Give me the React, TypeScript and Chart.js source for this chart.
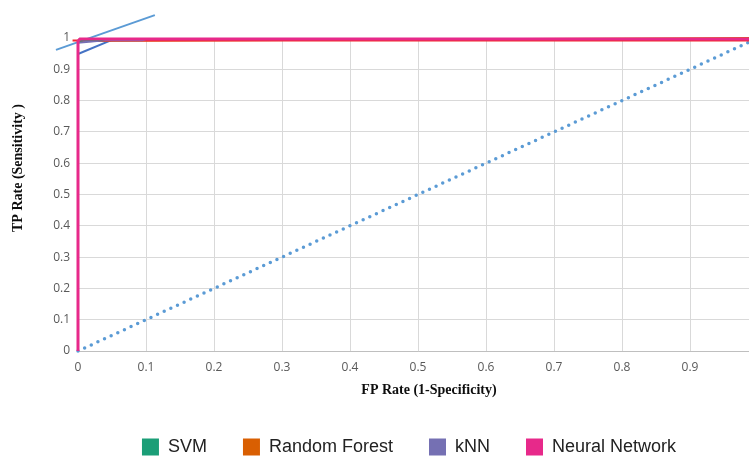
import React, { useEffect, useRef } from 'react';
import { Chart, registerables } from 'chart.js';

Chart.register(...registerables);

// ---- data ----
const seriesNames = ['SVM', 'Random Forest', 'kNN', 'Neural Network'];
const seriesColors = ['#1b9e77', '#d95f02', '#7570b3', '#e7298a'];

const svmFpr = [0, 0, 0.01, 0.035, 0.04, 1];
const svmTpr = [0, 0.99, 0.994, 0.994, 0.997, 0.997];

const rfFpr = [0, 0, 0.05, 1];
const rfTpr = [0, 0.99, 0.991, 1];

const knnFpr = [0, 0, 0.04, 0.095, 0.1, 1];
const knnTpr = [0, 0.985, 0.993, 0.993, 0.997, 0.997];

const nnFpr = [0, 0, 0.003, 1];
const nnTpr = [0, 0.99, 0.997, 0.997];

const extraRedFpr = [-0.008, 1];
const extraRedTpr = [0.992, 0.992];

const extraBlueFpr = [0, 0.05];
const extraBlueTpr = [0.949, 0.994];

const extraLightFpr = [-0.0324, 0.113];
const extraLightTpr = [0.962, 1.073];

const chanceFpr = [0, 1];
const chanceTpr = [0, 1];

const xTickValues = [0, 0.1, 0.2, 0.3, 0.4, 0.5, 0.6, 0.7, 0.8, 0.9];
const xTickLabels = ['0', '0.1', '0.2', '0.3', '0.4', '0.5', '0.6', '0.7', '0.8', '0.9'];
const yTickValues = [0, 0.1, 0.2, 0.3, 0.4, 0.5, 0.6, 0.7, 0.8, 0.9, 1];
const yTickLabels = ['0', '0.1', '0.2', '0.3', '0.4', '0.5', '0.6', '0.7', '0.8', '0.9', '1'];

const xTitle = 'FP Rate (1-Specificity)';
const yTitle = 'TP Rate (Sensitivity )';

const toPoints = (xs: number[], ys: number[]) => xs.map((x, i) => ({ x, y: ys[i] }));

const titlePlugin = {
  id: 'axisTitles',
  afterDraw(chart: any) {
    const ctx = chart.ctx;
    ctx.save();
    ctx.fillStyle = '#0d0d0d';
    ctx.font = 'bold 14px "Liberation Serif", serif';
    ctx.textAlign = 'center';
    ctx.textBaseline = 'middle';
    ctx.fillText(xTitle, 429, 390);
    ctx.translate(18, 168);
    ctx.rotate(-Math.PI / 2);
    ctx.fillText(yTitle, 0, 0);
    ctx.restore();
  },
};

export default function App() {
  const canvasRef = useRef<HTMLCanvasElement | null>(null);

  useEffect(() => {
    if (!canvasRef.current) return;
    const line = (label: string, pts: any[], color: string, width: number, order: number, extra: any = {}) => ({
      label,
      data: pts,
      borderColor: color,
      backgroundColor: color,
      borderWidth: width,
      pointRadius: 0,
      tension: 0,
      fill: false,
      clip: false,
      order,
      ...extra,
    });

    const datasets = [
      line(seriesNames[0], toPoints(svmFpr, svmTpr), seriesColors[0], 2, 1),
      line(seriesNames[1], toPoints(rfFpr, rfTpr), seriesColors[1], 2, 4),
      line(seriesNames[2], toPoints(knnFpr, knnTpr), seriesColors[2], 2, 2),
      line(seriesNames[3], toPoints(nnFpr, nnTpr), seriesColors[3], 3, 0),
      line('_red', toPoints(extraRedFpr, extraRedTpr), '#f0282c', 2, 3),
      line('_blue', toPoints(extraBlueFpr, extraBlueTpr), '#4472c4', 2, 6),
      line('_light', toPoints(extraLightFpr, extraLightTpr), '#5b9bd5', 2, 7),
      line('_chance', toPoints(chanceFpr, chanceTpr), '#5b9bd5', 3.5, 8, {
        borderDash: [0, 7.3],
        borderCapStyle: 'round',
      }),
    ];

    const chart = new Chart(canvasRef.current, {
      type: 'line',
      data: { datasets },
      plugins: [titlePlugin],
      options: {
        animation: false,
        responsive: false,
        maintainAspectRatio: false,
        layout: { padding: { left: 60, right: 2, top: 38, bottom: 0 } },
        plugins: {
          tooltip: { enabled: false },
          legend: {
            display: true,
            position: 'bottom',
            labels: {
              boxWidth: 17,
              boxHeight: 17,
              padding: 36,
              color: '#222222',
              font: { family: '"Liberation Sans", Arial, sans-serif', size: 18 },
              filter: (item: any) => item.datasetIndex < 4,
              sort: (a: any, b: any) => a.datasetIndex - b.datasetIndex,
              generateLabels: (ch: any) => {
                const items = Chart.defaults.plugins.legend.labels.generateLabels(ch);
                return items.map((it: any) => ({
                  ...it,
                  fillStyle: seriesColors[it.datasetIndex] || it.fillStyle,
                  strokeStyle: 'rgba(0,0,0,0)',
                  lineWidth: 0,
                  lineDash: [],
                }));
              },
            },
          },
        },
        scales: {
          x: {
            type: 'linear',
            min: 0,
            max: 1,
            afterBuildTicks: (scale: any) => {
              scale.ticks = xTickValues.map((v) => ({ value: v }));
            },
            afterFit: (scale: any) => {
              scale.height = 51;
            },
            ticks: {
              padding: 9,
              color: '#595959',
              font: { family: '"Open Sans", sans-serif', size: 12 },
              maxRotation: 0,
              callback: (_v: any, i: number) => xTickLabels[i],
            },
            grid: { color: '#d9d9d9', lineWidth: 1, drawTicks: false },
            border: { display: true, color: '#bfbfbf', width: 1 },
          },
          y: {
            type: 'linear',
            min: 0,
            max: 1,
            afterBuildTicks: (scale: any) => {
              scale.ticks = yTickValues.map((v) => ({ value: v }));
            },
            afterFit: (scale: any) => {
              scale.width = 18;
              scale._computeLabelArea = () => undefined;
            },
            ticks: {
              padding: 8,
              color: '#595959',
              font: { family: '"Open Sans", sans-serif', size: 12 },
              callback: (_v: any, i: number) => yTickLabels[i],
            },
            grid: { color: '#d9d9d9', lineWidth: 1, drawTicks: false },
            border: { display: false },
          },
        },
      } as any,
    });
    return () => chart.destroy();
  }, []);

  return (
    <div
      style={{
        position: 'absolute',
        left: 0,
        top: 0,
        width: 749,
        height: 457,
        overflow: 'hidden',
        background: '#ffffff',
      }}
    >
      <canvas ref={canvasRef} width={760} height={466} style={{ display: 'block', width: 760, height: 466 }} />
    </div>
  );
}
